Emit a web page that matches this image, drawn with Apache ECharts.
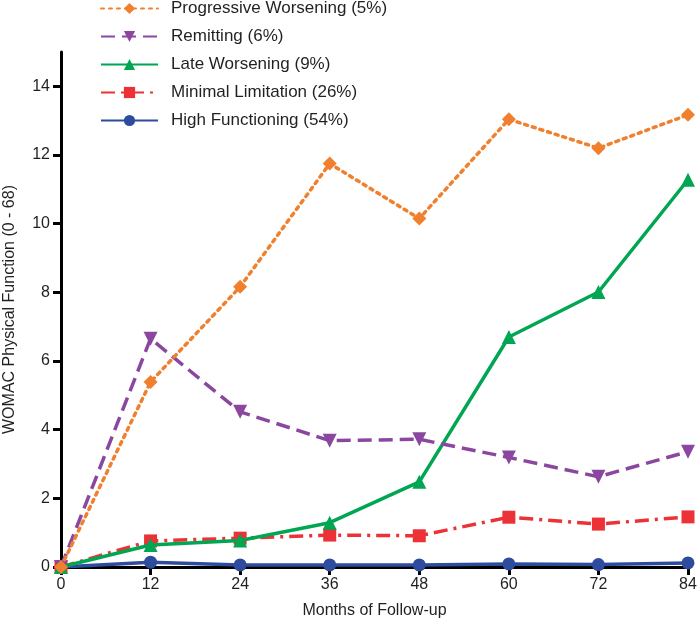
<!DOCTYPE html>
<html>
<head>
<meta charset="utf-8">
<script src="https://cdn.jsdelivr.net/npm/echarts@6/dist/echarts.min.js"></script>
<style>
html,body{margin:0;padding:0;background:#fff;}
#c{width:697px;height:627px;}
</style>
</head>
<body>
<div id="c"></div>
<script>
const months = [0, 12, 24, 36, 48, 60, 72, 84];
const xTicks = [0, 12, 24, 36, 48, 60, 72, 84];
const yTicks = [0, 2, 4, 6, 8, 10, 12, 14];
const progressive = [0, 5.39, 8.16, 11.75, 10.15, 13.04, 12.2, 13.17];
const remitting = [0, 6.65, 4.52, 3.68, 3.72, 3.19, 2.63, 3.36];
const lateWorsening = [0, 0.64, 0.77, 1.29, 2.48, 6.70, 8.01, 11.28];
const minimalLimitation = [0, 0.76, 0.84, 0.93, 0.91, 1.45, 1.25, 1.46];
const highFunctioning = [0, 0.14, 0.06, 0.06, 0.06, 0.09, 0.07, 0.12];
const names = ['Progressive Worsening (5%)', 'Remitting (6%)', 'Late Worsening (9%)', 'Minimal Limitation (26%)', 'High Functioning (54%)'];

const pair = arr => months.map((m, i) => [m, arr[i]]);
const font = 'Liberation Sans, Arial, Helvetica, sans-serif';
const txt = '#231F20';

const chart = echarts.init(document.getElementById('c'), null, {renderer: 'canvas'});
chart.setOption({
  animation: false,
  backgroundColor: '#fff',
  grid: {left: 61, right: 9, top: 52, bottom: 60, containLabel: false, outerBoundsMode: 'none'},
  legend: {
    orient: 'vertical', left: 100, top: 0, padding: 0,
    itemWidth: 57, itemHeight: 14, itemGap: 11,
    data: names,
    textStyle: {fontFamily: font, fontSize: 17, color: txt, padding: [0, 0, 0, 8]}
  },
  xAxis: {
    type: 'value', min: 0, max: 84, interval: 12,
    name: 'Months of Follow-up', nameLocation: 'middle', nameGap: 36,
    nameTextStyle: {fontFamily: font, fontSize: 16, color: txt},
    axisLine: {show: true, lineStyle: {color: '#000', width: 3}},
    axisTick: {show: true, inside: false, length: 8, lineStyle: {color: '#000', width: 3}, customValues: xTicks},
    axisLabel: {fontFamily: font, fontSize: 16, color: txt, margin: 10, customValues: xTicks},
    splitLine: {show: false}
  },
  yAxis: {
    type: 'value', min: 0, max: 15, interval: 2,
    name: 'WOMAC Physical Function (0 - 68)', nameLocation: 'middle', nameGap: 43,
    nameTextStyle: {fontFamily: font, fontSize: 16, color: txt},
    axisLine: {show: true, lineStyle: {color: '#000', width: 3}},
    axisTick: {show: true, inside: false, length: 8, lineStyle: {color: '#000', width: 3}, customValues: yTicks},
    axisLabel: {fontFamily: font, fontSize: 16, color: txt, margin: 11, customValues: yTicks},
    splitLine: {show: false}
  },
  series: [
    {
      name: names[4], type: 'line', data: pair(highFunctioning), z: 2,
      symbol: 'circle', symbolSize: 13,
      itemStyle: {color: '#2E4C9E'},
      lineStyle: {color: '#2E4C9E', width: 3.5, type: 'solid'}
    },
    {
      name: names[3], type: 'line', data: pair(minimalLimitation), z: 3,
      symbol: 'rect', symbolSize: 13,
      itemStyle: {color: '#EC3237'},
      lineStyle: {color: '#EC3237', width: 3.5, type: [14, 6, 3, 6]}
    },
    {
      name: names[2], type: 'line', data: pair(lateWorsening), z: 4,
      symbol: 'triangle', symbolSize: 14,
      itemStyle: {color: '#00A651'},
      lineStyle: {color: '#00A651', width: 3.5, type: 'solid'}
    },
    {
      name: names[1], type: 'line', data: pair(remitting), z: 5,
      symbol: 'triangle', symbolRotate: 180, symbolSize: 14,
      itemStyle: {color: '#8B47A0'},
      lineStyle: {color: '#8B47A0', width: 3.5, type: [14, 7]}
    },
    {
      name: names[0], type: 'line', data: pair(progressive), z: 6,
      symbol: 'diamond', symbolSize: 14,
      itemStyle: {color: '#F0802E'},
      lineStyle: {color: '#F0802E', width: 3.5, type: [3, 5], cap: 'round'}
    }
  ]
});
</script>
</body>
</html>
